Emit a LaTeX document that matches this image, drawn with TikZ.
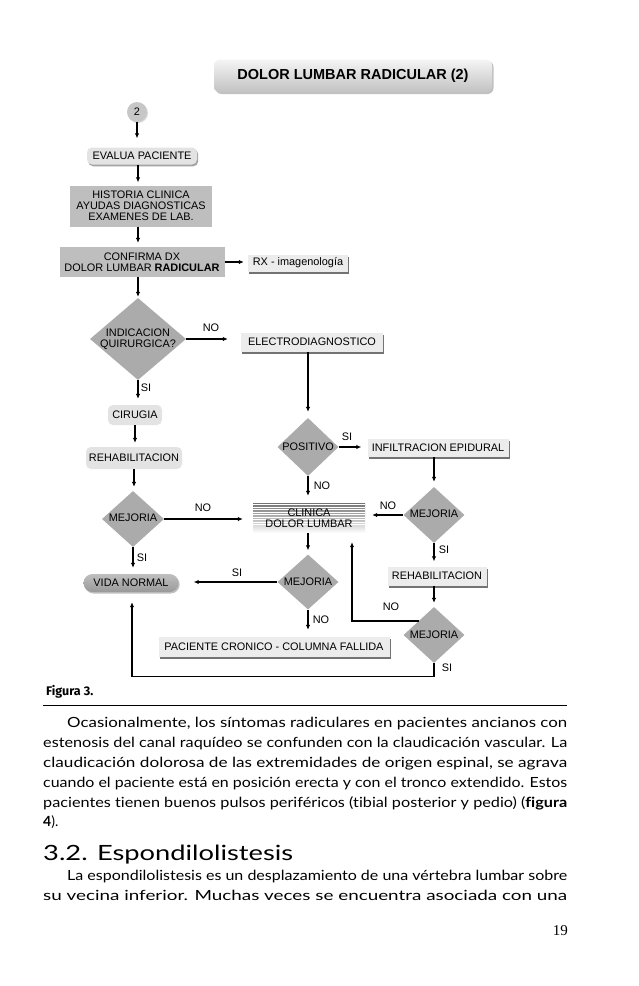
\documentclass[tikz,border=0pt]{standalone}
\usepackage{fontspec}
\usepackage{graphicx}
\setmainfont{Liberation Sans}
\newfontfamily\bodyfont[Ligatures={NoCommon,NoContextual}]{Lato}
\newfontfamily\figfont{Fira Sans}
\newfontfamily\numfont{Liberation Serif}
\usetikzlibrary{shapes.geometric,shadows,arrows.meta,calc}
\definecolor{diag}{HTML}{ABABAB}
\definecolor{gboxc}{HTML}{BEBEBE}
\definecolor{lboxc}{HTML}{ECECEC}
\definecolor{rboxc}{HTML}{E3E3E3}
\begin{document}
\begin{tikzpicture}[x=1pt,y=-1pt,
  every node/.style={font=\fontsize{10.9}{11}\selectfont, inner sep=0pt, align=center},
  arr/.style={line width=1.4pt, -{Latex[length=5pt,width=4.5pt]}},
  lbox/.style={rectangle, fill=lboxc, drop shadow={shadow xshift=1.2pt, shadow yshift=-2pt, fill=black!55, opacity=1}},
  rbox/.style={rectangle, rounded corners=5pt, fill=rboxc},
  gbox/.style={rectangle, fill=gboxc},
  dia/.style={diamond, fill=diag, inner sep=0pt},
  lab/.style={font=\fontsize{10.9}{11}\selectfont},
  body/.style={font=\bodyfont\fontsize{14}{16}\selectfont, anchor=base west, align=left}
]
\useasboundingbox[fill=white] (0,0) rectangle (638,986);

% title
\node[rectangle, rounded corners=6pt, minimum width=278pt, minimum height=33pt,
  top color=black!4, bottom color=black!24,
  drop shadow={shadow xshift=1.5pt, shadow yshift=-1.5pt, fill=black!40, opacity=0.6},
  font=\bfseries\fontsize{14.5}{16}\selectfont] (title) at (353,76) {DOLOR LUMBAR RADICULAR (2)};

% nodes
\node[circle, fill=black!22, minimum size=20pt,
  drop shadow={shadow xshift=1pt, shadow yshift=-1pt, fill=black!25, opacity=0.6}] (c2) at (137,112) {2};
\node[rbox, minimum width=110pt, minimum height=17pt,
  drop shadow={shadow xshift=1.2pt, shadow yshift=-1.8pt, fill=black!45, opacity=0.8}] (ev) at (142,156) {EVALUA PACIENTE};
\node[gbox, minimum width=142pt, minimum height=41pt] (hist) at (141,206) {HISTORIA CLINICA\\AYUDAS DIAGNOSTICAS\\EXAMENES DE LAB.};
\node[gbox, minimum width=165pt, minimum height=30pt] (conf) at (142,262) {CONFIRMA DX\\DOLOR LUMBAR \textbf{RADICULAR}};
\node[lbox, minimum width=100pt, minimum height=17pt] (rx) at (298,263) {RX - imagenología};

\node[dia, minimum width=96pt, minimum height=82pt] (ind) at (138,339) {};
\node (indt) at (ind.center) {INDICACION\\QUIRURGICA?};
\node[lbox, minimum width=142pt, minimum height=19pt] (el) at (312,342) {ELECTRODIAGNOSTICO};
\node[rbox, minimum width=54pt, minimum height=20pt] (cir) at (135,415) {CIRUGIA};
\node[rbox, minimum width=96pt, minimum height=22pt] (rehL) at (134,458) {REHABILITACION};

\node[dia, minimum width=61pt, minimum height=58pt] (pos) at (308,447) {};
\node (post) at (pos.center) {POSITIVO};
\node[lbox, minimum width=141pt, minimum height=18pt] (inf) at (438,448) {INFILTRACION EPIDURAL};

\node[dia, minimum width=62pt, minimum height=56pt] (mejL) at (133,519) {};
\node (mejLt) at ([yshift=1.5pt]mejL.center) {MEJORIA};

\node[rectangle, minimum width=112pt, minimum height=30pt, top color=black!55, bottom color=white] (cl) at (309,518) {};
\foreach \i in {2,4.5,...,22}
  \draw[white, line width=0.7pt] ($(cl.north west)+(0,\i)$) -- ($(cl.north east)+(0,\i)$);
\node (clt) at (cl.center) {CLINICA\\DOLOR LUMBAR};

\node[dia, minimum width=61pt, minimum height=56pt] (mejR) at (434,515) {};
\node (mejRt) at ([yshift=1.5pt]mejR.center) {MEJORIA};
\node[lbox, minimum width=99pt, minimum height=19pt] (rehR) at (437,576) {REHABILITACION};

\node[dia, minimum width=61pt, minimum height=55pt] (mejM) at (308,582) {};
\node (mejMt) at (mejM.center) {MEJORIA};
\node[rectangle, rounded corners=9pt, minimum width=95pt, minimum height=18pt,
  top color=black!25, bottom color=black!40,
  drop shadow={shadow xshift=1.2pt, shadow yshift=-1.5pt, fill=black!35, opacity=0.7}] (vida) at (131,583) {VIDA NORMAL};

\node[dia, minimum width=61pt, minimum height=56pt] (mejB) at (434,635) {};
\node (mejBt) at (mejB.center) {MEJORIA};
\node[lbox, minimum width=231pt, minimum height=20pt] (pac) at (274,647) {PACIENTE CRONICO - COLUMNA FALLIDA};

\coordinate (clin) at ([xshift=43pt]cl.south);

% connectors
\draw[arr, shorten >=9pt] (c2.south) -- (c2.south |- ev.north);
\draw[arr, shorten >=3pt] ([xshift=-4pt]ev.south) -- ([xshift=-4pt]ev.south |- hist.north);
\draw[arr, shorten >=4pt] ([xshift=-3pt]hist.south) -- ([xshift=-3pt]hist.south |- conf.north);
\draw[arr, shorten >=1pt] ([xshift=-4pt]conf.south) -- (ind.north);
\draw[arr, shorten >=4pt] (conf.east) -- (conf.east -| rx.west);
\draw[arr, shorten >=13pt] (ind.east) -- (ind.east -| el.west);
\draw[arr, shorten >=6pt] (ind.south) -- (ind.south |- cir.north);
\draw[arr, shorten >=4pt] (cir.south) -- (cir.south |- rehL.north);
\draw[arr, shorten >=4pt] (rehL.south) -- (rehL.south |- mejL.north);
\draw[arr, shorten >=6pt] (pos.north |- el.south) -- (pos.north);
\draw[arr, shorten >=6pt] (pos.east) -- (pos.east -| inf.west);
\draw[arr, shorten >=7pt] (pos.south) -- (pos.south |- cl.north);
\draw[arr, shorten >=5pt] (mejR.north |- inf.south) -- (mejR.north);
\draw[arr, shorten >=7pt] (mejR.west) -- (mejR.west -| cl.east);
\draw[arr, shorten >=10pt] (mejL.east) -- (mejL.east -| cl.west);
\draw[arr, shorten >=5pt] (mejR.south) -- (mejR.south |- rehR.north);
\draw[arr, shorten >=4pt] (mejB.north |- rehR.south) -- (mejB.north);
\draw[arr, shorten >=4pt] (mejM.north |- cl.south) -- (mejM.north);
\draw[arr, shorten >=15pt] (mejM.west) -- (mejM.west -| vida.east);
\draw[arr, shorten >=7pt] (mejM.south) -- (mejM.south |- pac.north);
\draw[arr, shorten >=6pt] (mejL.south) -- (mejL.south |- vida.north);
\draw[arr, shorten >=10pt] (mejB.south) -- ++(0,13) -| ([xshift=1pt]vida.south);
\draw[arr, shorten >=9pt] (mejB.north west) -| (clin);

% labels
\node[lab] (l1) at (211,328) {NO};
\node[lab] (l2) at (146,388) {SI};
\node[lab] (l3) at (347,437) {SI};
\node[lab] (l4) at (322,486) {NO};
\node[lab] (l5) at (203,508) {NO};
\node[lab] (l6) at (388,506) {NO};
\node[lab] (l7) at (444,550) {SI};
\node[lab] (l8) at (142,558) {SI};
\node[lab] (l9) at (237,573) {SI};
\node[lab] (l10) at (321,620) {NO};
\node[lab] (l11) at (391,607) {NO};
\node[lab] (l12) at (447,668) {SI};

% caption and rule
\node[anchor=base west, font=\figfont\bfseries\fontsize{12.5}{14}\selectfont] (fig) at (46,695) {Figura 3.};
\coordinate (r1) at (43,705);
\coordinate (r2) at (567,705);
\draw[line width=0.9pt] (r1) -- (r2);

% body text
\node[body] (p1) at (67,727) {\resizebox{500pt}{\height}{Ocasionalmente, los síntomas radiculares en pacientes ancianos con}};
\node[body] (p2) at (43,747) {\resizebox{524pt}{\height}{estenosis del canal raquídeo se confunden con la claudicación vascular. La}};
\node[body] (p3) at (43,767) {\resizebox{524pt}{\height}{claudicación dolorosa de las extremidades de origen espinal, se agrava}};
\node[body] (p4) at (43,787) {\resizebox{524pt}{\height}{cuando el paciente está en posición erecta y con el tronco extendido. Estos}};
\node[body] (p5) at (43,807) {\resizebox{524pt}{\height}{pacientes tienen buenos pulsos periféricos (tibial posterior y pedio) (\textbf{figura}}};
\node[body] (p6) at (43,826) {\textbf{4}).};
\node[body, font=\bodyfont\fontsize{21}{24}\selectfont] (h32) at (43,860) {\resizebox{250pt}{\height}{3.2. Espondilolistesis}};
\node[body] (p7) at (67,880) {\resizebox{500pt}{\height}{La espondilolistesis es un desplazamiento de una vértebra lumbar sobre}};
\node[body] (p8) at (43,900) {\resizebox{524pt}{\height}{su vecina inferior. Muchas veces se encuentra asociada con una}};
\node[anchor=base east, font=\numfont\fontsize{15}{17}\selectfont] (pg) at (568,935) {19};
\end{tikzpicture}
\end{document}
